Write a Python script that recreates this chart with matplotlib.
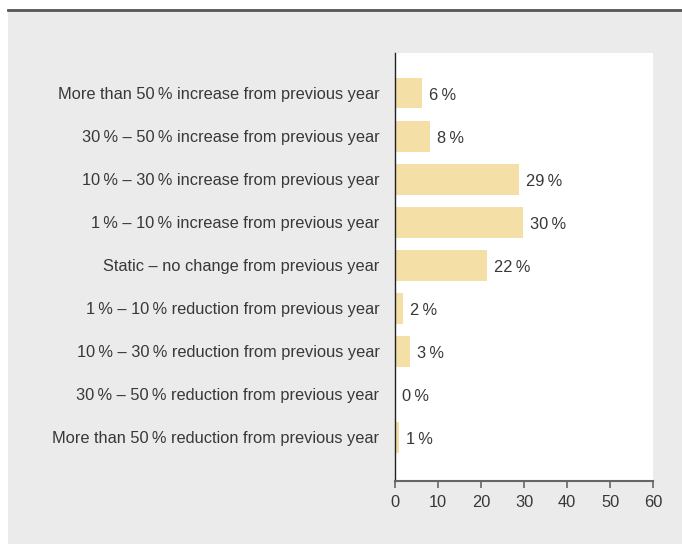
import matplotlib.pyplot as plt
from matplotlib.patches import Rectangle
from matplotlib.lines import Line2D

categories = [
    'More than 50\u2009% increase from previous year',
    '30\u2009% \u2013 50\u2009% increase from previous year',
    '10\u2009% \u2013 30\u2009% increase from previous year',
    '1\u2009% \u2013 10\u2009% increase from previous year',
    'Static \u2013 no change from previous year',
    '1\u2009% \u2013 10\u2009% reduction from previous year',
    '10\u2009% \u2013 30\u2009% reduction from previous year',
    '30\u2009% \u2013 50\u2009% reduction from previous year',
    'More than 50\u2009% reduction from previous year',
]
values = [6.3, 8.2, 28.8, 29.8, 21.5, 1.9, 3.5, 0.0, 1.0]
value_labels = ['6', '8', '29', '30', '22', '2', '3', '0', '1']
xticks = [0, 10, 20, 30, 40, 50, 60]

plt.rcParams['font.family'] = ['Liberation Sans', 'DejaVu Sans']
text_color = '#383838'
fs = 11.8

fig = plt.figure(figsize=(6.82, 5.44), dpi=100)
fig.patch.set_facecolor('white')
fig.patches.append(Rectangle((8 / 682, 0), 1, (544 - 10) / 544,
                             transform=fig.transFigure, facecolor='#ebebeb',
                             edgecolor='none', zorder=-2))
fig.lines.append(Line2D([8 / 682, 1], [(544 - 10) / 544] * 2,
                        transform=fig.transFigure, color='#555555', lw=2,
                        zorder=-1))

ax = fig.add_axes([394.7 / 682, (544 - 481) / 544, 258.6 / 682, 428 / 544])
ax.set_facecolor('white')

y = list(range(len(categories)))
ax.barh(y, values, height=0.72, color='#f4dfa6', edgecolor='none')
for yi, v, lab in zip(y, values, value_labels):
    ax.text(v + 1.6, yi + 0.05, lab + '\u2009%', va='center', ha='left',
            fontsize=fs, color=text_color)

ax.set_ylim(9.02, -0.93)
ax.set_xlim(0, 60)
ax.set_yticks(y)
ax.set_yticklabels(categories)
ax.set_xticks(xticks)

for s in ['top', 'right']:
    ax.spines[s].set_visible(False)
ax.spines['left'].set_color('#222222')
ax.spines['left'].set_linewidth(1.0)
ax.spines['bottom'].set_color('#666666')
ax.spines['bottom'].set_linewidth(1.5)

ax.tick_params(axis='y', length=0, pad=11, labelsize=fs, labelcolor=text_color)
ax.tick_params(axis='x', length=5, width=1.2, color='#666666', pad=5,
               labelsize=fs, labelcolor=text_color)

fig.savefig('out.png', dpi=100)
